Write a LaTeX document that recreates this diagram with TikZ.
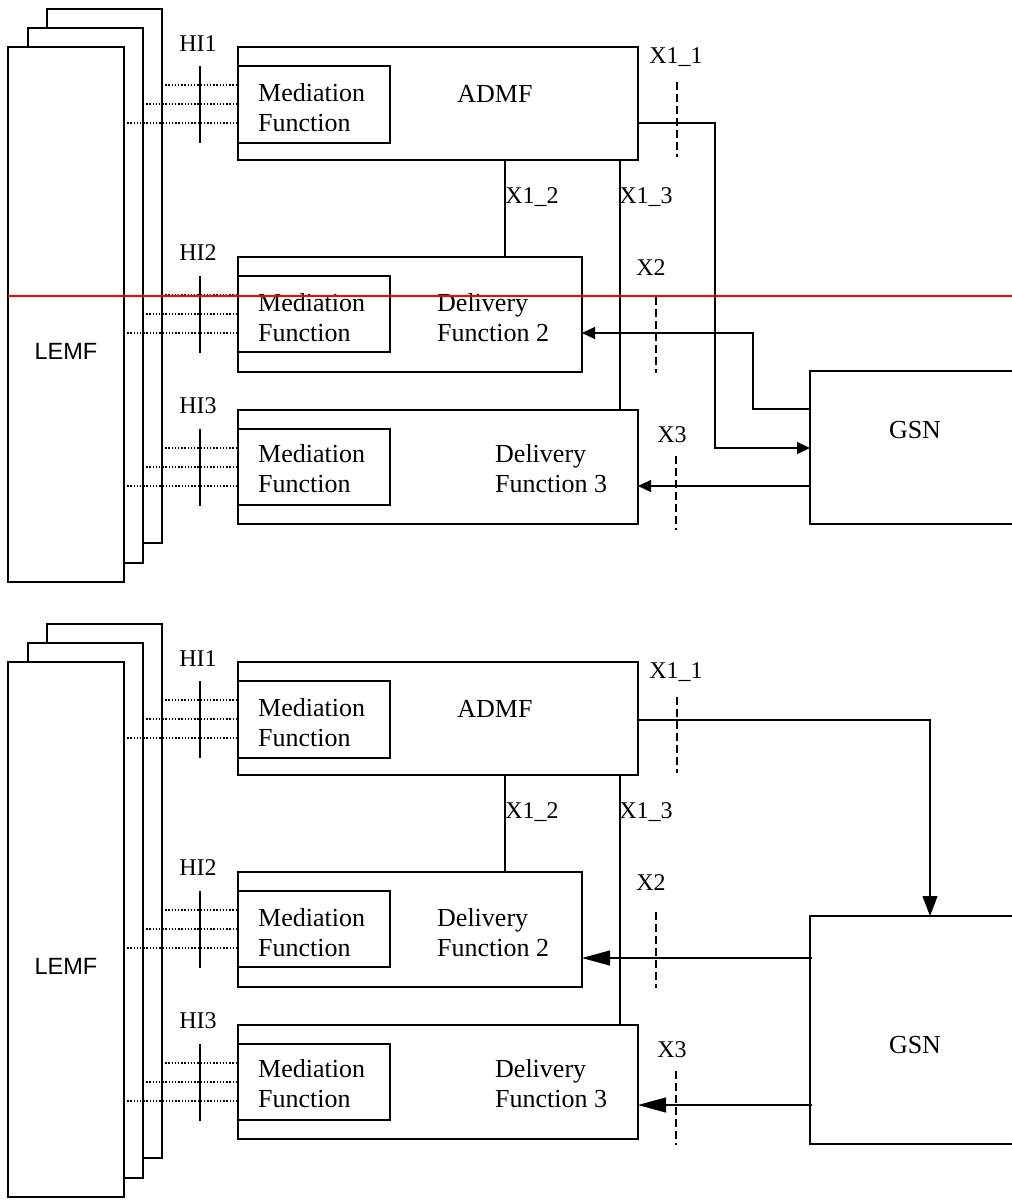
\documentclass[tikz,border=0pt]{standalone}
\usepackage{fontspec}
\setmainfont{Liberation Serif}
\newfontfamily\arialfont{Liberation Sans}
\usetikzlibrary{arrows.meta}
\newcommand\lipart[2]{%
  % pages of the LEMF stack
  \node[page, minimum width=115pt, minimum height=534pt] (pga#1) at (47,9) {};
  \node[page, minimum width=115pt, minimum height=535pt] (pgb#1) at (28,28) {};
  \node[page, minimum width=116pt, minimum height=535pt] (lemf#1) at (8,47) {};
  \node[sanstxt] (lemft#1) at (66,351) {LEMF};
  % ADMF
  \node[box, minimum width=400pt, minimum height=113pt] (admf#1) at (238,47) {};
  \node[box, minimum width=152pt, minimum height=77pt] (meda#1) at (238,66) {};
  \node[btxt, anchor=west] (medat#1) at (258,108) {Mediation\\Function};
  \node[btxt] (admft#1) at (495,93.5) {ADMF};
  % Delivery Function 2
  \node[box, minimum width=344pt, minimum height=115pt] (dfb#1) at (238,257) {};
  \node[box, minimum width=152pt, minimum height=76pt] (medb#1) at (238,276) {};
  \node[btxt, anchor=west] (medbt#1) at (258,318) {Mediation\\Function};
  \node[btxt, anchor=west] (dfbt#1) at (437,318) {Delivery\\Function 2};
  % Delivery Function 3
  \node[box, minimum width=400pt, minimum height=114pt] (dfc#1) at (238,410) {};
  \node[box, minimum width=152pt, minimum height=76pt] (medc#1) at (238,429) {};
  \node[btxt, anchor=west] (medct#1) at (258,469) {Mediation\\Function};
  \node[btxt, anchor=west] (dfct#1) at (495,469) {Delivery\\Function 3};
  % interface labels
  \node[lbl] (hia#1) at (198,44) {HI1};
  \node[lbl] (hib#1) at (198,253) {HI2};
  \node[lbl] (hic#1) at (198,406) {HI3};
  \node[lbl] (xoo#1) at (676,57) {X1\_1};
  \node[lbl] (xot#1) at (532,197) {X1\_2};
  \node[lbl] (xoh#1) at (646,197) {X1\_3};
  \node[lbl] (xtw#1) at (651,268) {X2};
  \node[lbl] (xth#1) at (672,435) {X3};
  % HI ticks
  \draw[tickln] (200,66) -- (200,143);
  \draw[tickln] (200,276) -- (200,353);
  \draw[tickln] (200,429) -- (200,506);
  % X dashed cuts
  \draw[dsh] (656,297) -- (656,373);
  \draw[dsh] (676,456) -- (676,530);
  % dotted handover lines
  \coordinate (ra1#1) at (0,85);  \coordinate (ra2#1) at (0,104); \coordinate (ra3#1) at (0,123);
  \coordinate (rb1#1) at (0,295); \coordinate (rb2#1) at (0,314); \coordinate (rb3#1) at (0,333);
  \coordinate (rc1#1) at (0,448); \coordinate (rc2#1) at (0,467); \coordinate (rc3#1) at (0,486);
  \draw[dotln] (pga#1.east |- ra1#1) -- (meda#1.west |- ra1#1);
  \draw[dotln] (pgb#1.east |- ra2#1) -- (meda#1.west |- ra2#1);
  \draw[dotln] (lemf#1.east |- ra3#1) -- (meda#1.west |- ra3#1);
  \draw[dotln] (pga#1.east |- rb1#1) -- (medb#1.west |- rb1#1);
  \draw[dotln] (pgb#1.east |- rb2#1) -- (medb#1.west |- rb2#1);
  \draw[dotln] (lemf#1.east |- rb3#1) -- (medb#1.west |- rb3#1);
  \draw[dotln] (pga#1.east |- rc1#1) -- (medc#1.west |- rc1#1);
  \draw[dotln] (pgb#1.east |- rc2#1) -- (medc#1.west |- rc2#1);
  \draw[dotln] (lemf#1.east |- rc3#1) -- (medc#1.west |- rc3#1);
  % X1_2, X1_3
  \coordinate (gx12#1) at (505,0); \coordinate (gx13#1) at (620,0);
  \draw[conn] (admf#1.south -| gx12#1) -- (dfb#1.north -| gx12#1);
  \draw[conn] (admf#1.south -| gx13#1) -- (dfc#1.north -| gx13#1);
}
\begin{document}
\begin{tikzpicture}[x=1pt,y=-1pt,
  page/.style={draw, fill=white, line width=1.2pt, inner sep=0pt, outer sep=0pt, anchor=north west},
  box/.style={draw, line width=1.2pt, inner sep=0pt, outer sep=0pt, anchor=north west},
  btxt/.style={inner sep=0pt, align=left, font=\fontsize{26}{30}\selectfont},
  lbl/.style={inner sep=0pt, font=\fontsize{24}{28}\selectfont},
  sanstxt/.style={inner sep=0pt, font=\arialfont\fontsize{23.5}{28}\selectfont},
  conn/.style={line width=1.2pt},
  tickln/.style={line width=1.4pt},
  dsh/.style={line width=1.4pt, dash pattern=on 8pt off 4pt},
  dotln/.style={line width=1.6pt, dash pattern=on 1.4pt off 1.8pt},
  smallarrow/.style={-{Triangle[length=13pt,width=12pt]}},
  bigarrow/.style={-{Triangle[length=28pt,width=15pt]}},
  downarrow/.style={-{Triangle[length=20pt,width=15pt]}}]
\useasboundingbox (0,0) rectangle (1012,1200);
\clip (0,0) rectangle (1012,1200);
% ---------------- upper diagram ----------------
\begin{scope}
  \lipart{A}{0}
  \draw[dsh] (677,82) -- (677,157);
  \node[box, minimum width=230pt, minimum height=153pt] (gsnA) at (810,371) {};
  \node[btxt] (gsntA) at (915,430) {GSN};
  \coordinate (ta1) at (715,123); \coordinate (ta2) at (715,448);
  \draw[conn, smallarrow] (admfA.east |- ta1) -- (ta1) -- (ta2) -- (gsnA.west |- ta2);
  \coordinate (tb1) at (753,409); \coordinate (tb2) at (753,333);
  \draw[conn, smallarrow] (gsnA.west |- tb1) -- (tb1) -- (tb2) -- (dfbA.east |- tb2);
  \coordinate (tc1) at (0,486);
  \draw[conn, smallarrow] (gsnA.west |- tc1) -- (dfcA.east |- tc1);
  \coordinate (redl) at (8,296); \coordinate (redr) at (1012,296);
  \draw[red, line width=1.5pt] (redl) -- (redr);
\end{scope}
% ---------------- lower diagram ----------------
\begin{scope}[yshift=-615pt]
  \lipart{B}{615}
  \draw[dsh] (677,82) -- (677,158);
  \node[box, minimum width=230pt, minimum height=228pt] (gsnB) at (810,301) {};
  \node[btxt] (gsntB) at (915,430) {GSN};
  \coordinate (ua1) at (930,105);
  \draw[conn, downarrow] (admfB.east |- ua1) -- (ua1) -- (gsnB.north -| ua1);
  \coordinate (ub1) at (0,343);
  \draw[conn, bigarrow] ([xshift=2pt]gsnB.west |- ub1) -- (dfbB.east |- ub1);
  \coordinate (uc1) at (0,490);
  \draw[conn, bigarrow] ([xshift=2pt]gsnB.west |- uc1) -- (dfcB.east |- uc1);
\end{scope}
\end{tikzpicture}
\end{document}
